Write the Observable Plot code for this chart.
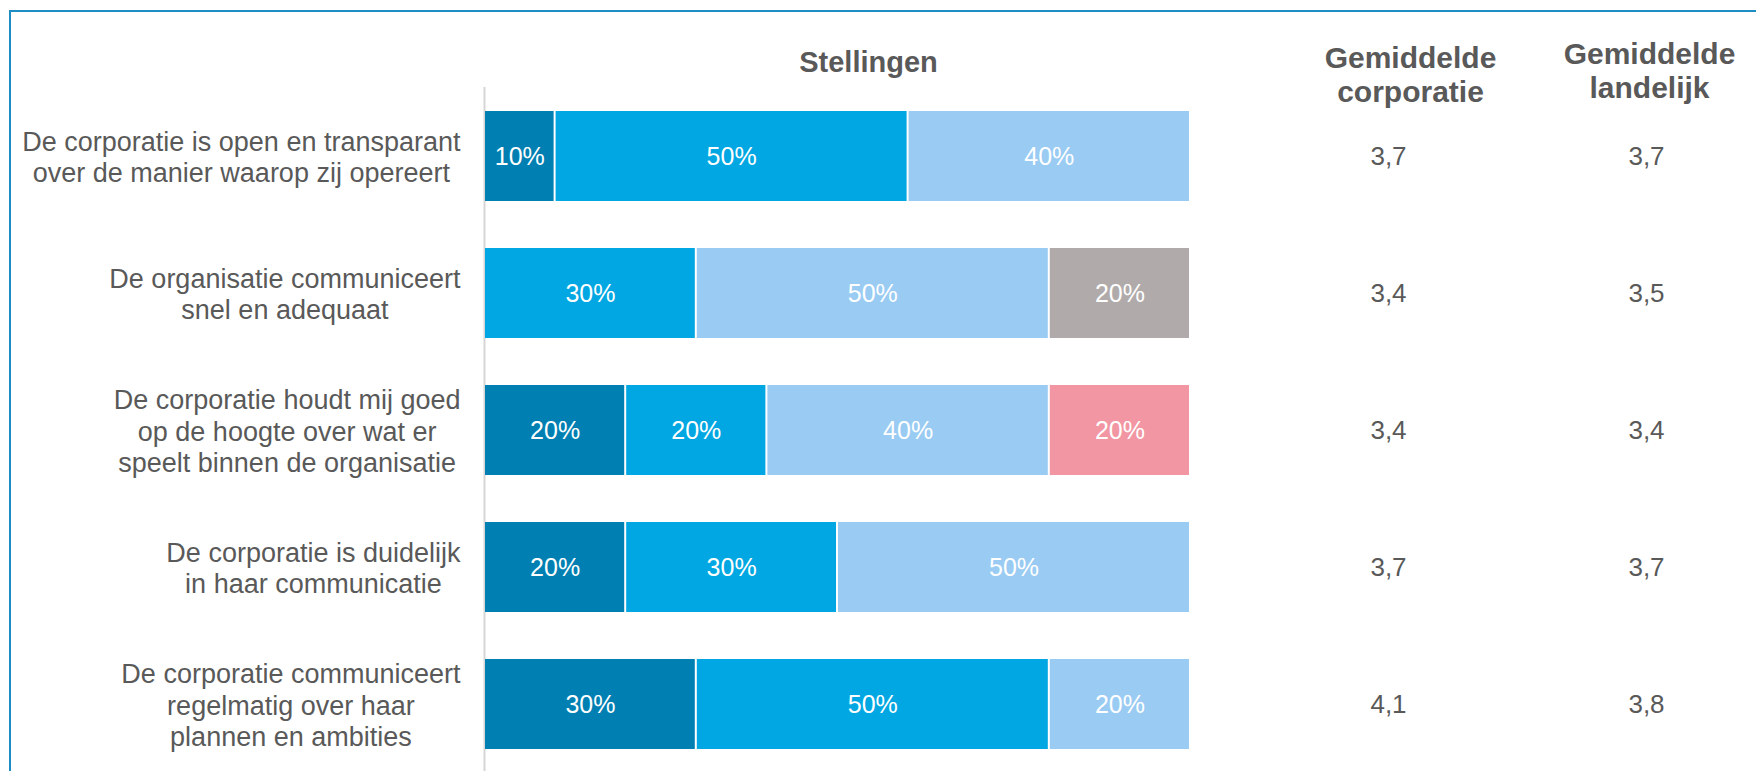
<!DOCTYPE html>
<html><head><meta charset="utf-8">
<script src="https://cdn.jsdelivr.net/npm/d3@7"></script>
<script src="https://cdn.jsdelivr.net/npm/@observablehq/plot@0.6"></script>
<style>
html,body{margin:0;padding:0;background:#fff;}
#wrap{position:relative;width:1756px;height:771px;overflow:hidden;font-family:"Liberation Sans",Arial,sans-serif;}
#frame{position:absolute;left:9px;top:10px;width:1800px;height:800px;border-top:2px solid #1f8cc4;border-left:2px solid #1f8cc4;}
#wrap svg{position:absolute;left:0;top:0;}
</style></head><body><div id="wrap"><div id="frame"></div></div>
<script>
// ---- data ----
const statements = [
  "De corporatie is open en transparant\nover de manier waarop zij opereert",
  "De organisatie communiceert\nsnel en adequaat",
  "De corporatie houdt mij goed\nop de hoogte over wat er\nspeelt binnen de organisatie",
  "De corporatie is duidelijk\nin haar communicatie",
  "De corporatie communiceert\nregelmatig over haar\nplannen en ambities"
];
const answers = ["Helemaal mee eens", "Mee eens", "Neutraal", "Mee oneens", "Weet niet"];
const answerColors = ["#0080b2", "#00a7e2", "#99cbf3", "#f196a2", "#b0abaa"];
const helemaalMeeEens = [10, 0, 20, 20, 30];
const meeEens = [50, 30, 20, 30, 50];
const neutraal = [40, 50, 40, 50, 20];
const meeOneens = [0, 0, 20, 0, 0];
const weetNiet = [0, 20, 0, 0, 0];
const avgCorporatie = ["3,7", "3,4", "3,4", "3,7", "4,1"];
const avgLandelijk = ["3,7", "3,5", "3,4", "3,7", "3,8"];
const columnHeaders = ["Gemiddelde\ncorporatie", "Gemiddelde\nlandelijk"];
const title = "Stellingen";

// ---- build tables ----
const series = [helemaalMeeEens, meeEens, neutraal, meeOneens, weetNiet];
const rows = [];
statements.forEach((s, i) => {
  answers.forEach((a, j) => {
    if (series[j][i] > 0) rows.push({statement: s, answer: a, value: series[j][i]});
  });
});
const sideRows = statements.flatMap((s, i) => [
  {statement: s, col: columnHeaders[0], v: avgCorporatie[i]},
  {statement: s, col: columnHeaders[1], v: avgLandelijk[i]}
]);

const FONT = "'Liberation Sans', Arial, sans-serif";
const TXT = "#595959";
const yOpts = {type: "band", domain: statements, paddingInner: 0.3455, paddingOuter: 0.16, align: 0.52, axis: null};

const LABEL_SIZE = 27;
const ctx = document.createElement("canvas").getContext("2d");
ctx.font = LABEL_SIZE + "px 'Liberation Sans'";
const labelMarks = statements.map(s => {
  const w = d3.max(s.split("\n"), l => ctx.measureText(l).width);
  return Plot.text([s], {x: 0, y: d => d, text: d => d, textAnchor: "middle", lineAnchor: "middle",
    dx: -(25 + w / 2), fontSize: LABEL_SIZE, lineHeight: 1.16, fill: TXT});
});

const main = Plot.plot({
  width: 1756, height: 771,
  marginLeft: 485, marginRight: 565, marginTop: 87, marginBottom: 0,
  style: {fontFamily: FONT, background: "transparent"},
  x: {domain: [0, 100], axis: null},
  y: yOpts,
  color: {domain: answers, range: answerColors},
  marks: [
    Plot.ruleX([0], {stroke: "#d6d6d6", strokeWidth: 2, dx: -1}),
    Plot.barX(rows, Plot.stackX({x: "value", y: "statement", fill: "answer", order: answers, insetRight: 2})),
    Plot.text(rows, Plot.stackX({x: "value", y: "statement", z: "answer", order: answers,
      text: d => d.value + "%", fill: "white", fontSize: 25, dx: -1})),
    ...labelMarks,
    Plot.text([title], {frameAnchor: "top", text: d => d, lineAnchor: "middle", dx: 30, dy: -25,
      fontSize: 29, fontWeight: "bold", fill: TXT})
  ]
});

const side = Plot.plot({
  width: 1756, height: 771,
  marginLeft: 1388, marginRight: 110, marginTop: 87, marginBottom: 0,
  style: {fontFamily: FONT, background: "transparent"},
  x: {type: "point", domain: columnHeaders, padding: 0, axis: null},
  y: yOpts,
  marks: [
    Plot.text(sideRows, {x: "col", y: "statement", text: "v", fontSize: 26, fill: TXT}),
    Plot.text([columnHeaders[0]], {x: d => d, text: d => d, frameAnchor: "top", lineAnchor: "middle",
      dx: 22, dy: -13.5, fontSize: 30, fontWeight: "bold", lineHeight: 1.12, fill: TXT}),
    Plot.text([columnHeaders[1]], {x: d => d, text: d => d, frameAnchor: "top", lineAnchor: "middle",
      dx: 3, dy: -17, fontSize: 30, fontWeight: "bold", lineHeight: 1.12, fill: TXT})
  ]
});

const wrap = document.getElementById("wrap");
wrap.appendChild(main);
wrap.appendChild(side);
</script>
</body></html>
